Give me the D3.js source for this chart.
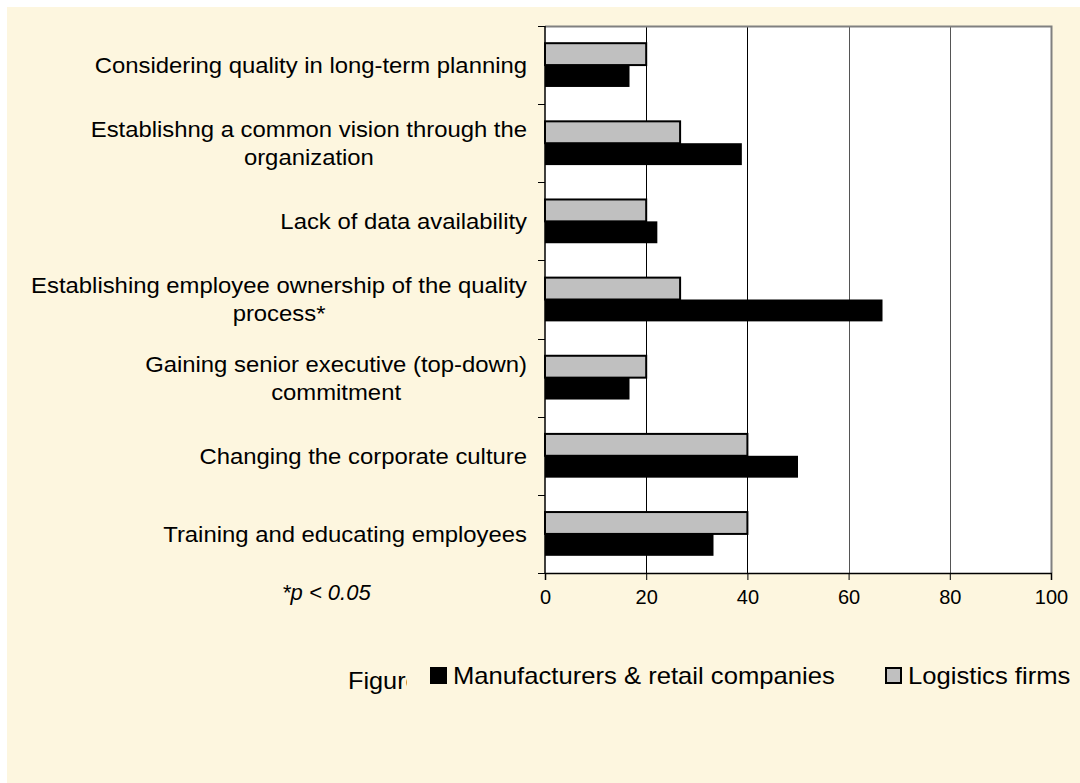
<!DOCTYPE html>
<html>
<head>
<meta charset="utf-8">
<script src="https://cdn.jsdelivr.net/npm/d3@7"></script>
<style>
  body { margin: 0; background: #fff; }
  text { font-family: "Liberation Sans", Arial, sans-serif; fill: #000; }
</style>
</head>
<body>
<svg id="chart" width="1080" height="783"></svg>
<script>
// categories, top to bottom
var categories = [
    ["Considering quality in long-term planning"],
    ["Establishng a common vision through the", "organization"],
    ["Lack of data availability"],
    ["Establishing employee ownership of the quality", "process*"],
    ["Gaining senior executive (top-down)", "commitment"],
    ["Changing the corporate culture"],
    ["Training and educating employees"]
];
var logistics = [20, 26.7, 20, 26.7, 20, 40, 40];
var manufacturers = [16.7, 38.9, 22.2, 66.7, 16.7, 50, 33.3];
var seriesNames = ["Logistics firms", "Manufacturers & retail companies"];
var xTicks = [0, 20, 40, 60, 80, 100];

var plot = { left: 545, right: 1051, top: 26, bottom: 573 };
var cream = "#fdf6df";
var stretch = 1.085; // text in the source is a bit wide for its height

var svg = d3.select("#chart");

// cream page background
svg.append("rect")
    .attr("x", 7).attr("y", 7)
    .attr("width", 1073).attr("height", 776)
    .attr("fill", cream);

var x = d3.scaleLinear().domain([0, 100]).range([plot.left, plot.right]);
var y = d3.scaleBand()
    .domain(d3.range(categories.length))
    .range([plot.top, plot.bottom])
    .paddingInner(0.44)
    .paddingOuter(0.22);
var ySub = d3.scaleBand().domain([0, 1]).range([0, y.bandwidth()]);

// plot area
svg.append("rect")
    .attr("x", plot.left).attr("y", plot.top)
    .attr("width", plot.right - plot.left).attr("height", plot.bottom - plot.top)
    .attr("fill", "#fff");

// gridlines
svg.append("g")
    .selectAll("line")
    .data(xTicks.slice(1, -1))
    .enter().append("line")
    .attr("x1", d => Math.round(x(d)) + 0.5)
    .attr("x2", d => Math.round(x(d)) + 0.5)
    .attr("y1", plot.top)
    .attr("y2", plot.bottom)
    .attr("stroke", d => d <= 40 ? "#000" : "#555")
    .attr("stroke-width", 1);

// plot border (top and right)
svg.append("path")
    .attr("d", "M" + plot.left + "," + (plot.top + 0.5) + "H" + (plot.right + 0.5) + "V" + plot.bottom)
    .attr("fill", "none")
    .attr("stroke", "#808080")
    .attr("stroke-width", 2);

// bars
var rows = categories.map((c, i) => ({ i: i, values: [logistics[i], manufacturers[i]] }));

var groups = svg.append("g").selectAll("g")
    .data(rows)
    .enter().append("g")
    .attr("transform", d => "translate(0," + y(d.i) + ")");

groups.selectAll("rect")
    .data(d => d.values.map((v, k) => ({ k: k, v: v })))
    .enter().append("rect")
    .attr("x", x(0))
    .attr("y", d => ySub(d.k))
    .attr("width", d => x(d.v) - x(0))
    .attr("height", ySub.bandwidth())
    .attr("fill", d => d.k === 0 ? "#c0c0c0" : "#000")
    .attr("stroke", "#000")
    .attr("stroke-width", d => d.k === 0 ? 2 : 0);

// x axis
var xAxis = svg.append("g")
    .attr("transform", "translate(0," + plot.bottom + ")")
    .call(d3.axisBottom(x).tickValues(xTicks).tickSize(7).tickPadding(10));
xAxis.select(".domain").attr("stroke", "#000").attr("stroke-width", 1.5);
xAxis.selectAll(".tick line").attr("stroke", "#000");
xAxis.selectAll("text").style("font-size", "20px").attr("font-family", null);

// y axis: ticks at category boundaries
var boundaries = d3.range(categories.length + 1).map(i => plot.top + i * y.step());
svg.append("line")
    .attr("x1", plot.left).attr("x2", plot.left)
    .attr("y1", plot.top).attr("y2", plot.bottom)
    .attr("stroke", "#000").attr("stroke-width", 1.5);
svg.append("g").selectAll("line")
    .data(boundaries)
    .enter().append("line")
    .attr("x1", plot.left - 7).attr("x2", plot.left)
    .attr("y1", d => Math.round(d) + 0.5).attr("y2", d => Math.round(d) + 0.5)
    .attr("stroke", "#000");

// category labels, block right-aligned, lines centred within block
var labelRight = 527;
var lineHeight = 28;
categories.forEach(function (lines, i) {
    var cy = y(i) + y.bandwidth() / 2;
    var g = svg.append("g")
        .attr("transform", "translate(" + labelRight + ",0) scale(" + stretch + ",1)");
    var texts = lines.map(function (s, j) {
        return g.append("text")
            .attr("y", cy + (j - (lines.length - 1) / 2) * lineHeight)
            .attr("dy", "0.36em")
            .style("font-size", "22px")
            .attr("text-anchor", "middle")
            .text(s);
    });
    var w = d3.max(texts, t => t.node().getComputedTextLength());
    texts.forEach(t => t.attr("x", -w / 2));
});

// footnote
svg.append("text")
    .attr("x", 282).attr("y", 600)
    .style("font-size", "22px")
    .style("font-style", "italic")
    .text("*p < 0.05");

// caption, cut off by the legend box
svg.append("clipPath").attr("id", "capclip")
    .append("rect").attr("x", 0).attr("y", 640).attr("width", 407).attr("height", 80);
svg.append("g")
    .attr("clip-path", "url(#capclip)")
    .append("text")
    .attr("transform", "translate(348,689) scale(1.1,1)")
    .style("font-size", "23px")
    .text("Figure");

// legend
var legend = svg.append("g");
var legendItems = [
    { name: seriesNames[1], fill: "#000", x: 430 },
    { name: seriesNames[0], fill: "#c0c0c0", x: 885 }
];
legendItems.forEach(function (d) {
    legend.append("rect")
        .attr("x", d.x + 1).attr("y", 668)
        .attr("width", 15).attr("height", 15)
        .attr("fill", d.fill)
        .attr("stroke", "#000")
        .attr("stroke-width", 2);
    legend.append("text")
        .attr("transform", "translate(" + (d.x + 23) + ",684) scale(1.115,1)")
        .style("font-size", "23px")
        .text(d.name);
});
</script>
</body>
</html>
